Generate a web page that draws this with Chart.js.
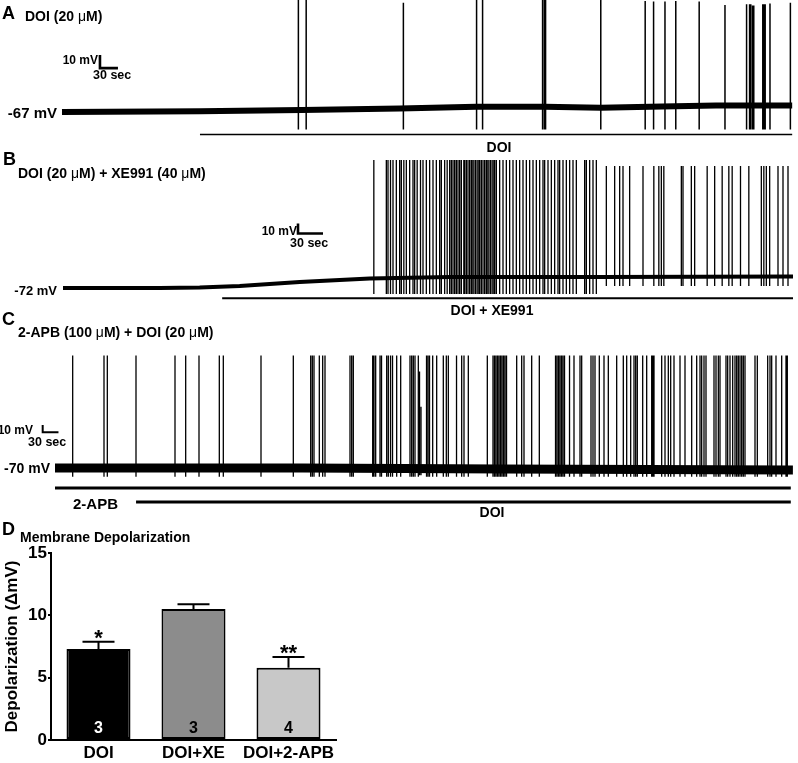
<!DOCTYPE html>
<html>
<head>
<meta charset="utf-8">
<script src="https://cdn.jsdelivr.net/npm/chart.js@4.4.1/dist/chart.umd.min.js"></script>
<style>
body { margin: 0; background: #fff; }
#fig { position: relative; width: 798px; height: 763px; overflow: hidden;
       font-family: "Liberation Sans", Arial, sans-serif; font-weight: bold; color: #000; }
#fig canvas { position: absolute; left: 0; }
.t { position: absolute; line-height: 1; white-space: nowrap; transform: translateY(-50%); }
.c { transform: translate(-50%, -50%); }
.r { transform: translate(-100%, -50%); }
.mu { font-weight: normal; }
</style>
</head>
<body>
<div id="fig">
  <canvas id="trA" width="798" height="150" style="top:0px"></canvas>
  <canvas id="trB" width="798" height="150" style="top:150px"></canvas>
  <canvas id="trC" width="798" height="215" style="top:300px"></canvas>
  <canvas id="barD" width="345" height="243" style="top:520px"></canvas>

  <div class="t" style="left:2px;top:12.5px;font-size:18px">A</div>
  <div class="t" style="left:25px;top:16px;font-size:14px">DOI (20 <span class="mu">μ</span>M)</div>
  <div class="t r" style="left:98px;top:60px;font-size:12px">10 mV</div>
  <div class="t" style="left:93px;top:75px;font-size:12.5px">30 sec</div>
  <div class="t r" style="left:57px;top:112px;font-size:15px">-67 mV</div>
  <div class="t c" style="left:499px;top:147px;font-size:14px">DOI</div>

  <div class="t" style="left:3px;top:159px;font-size:18px">B</div>
  <div class="t" style="left:18px;top:173px;font-size:14px">DOI (20 <span class="mu">μ</span>M) + XE991 (40 <span class="mu">μ</span>M)</div>
  <div class="t r" style="left:297px;top:231px;font-size:12px">10 mV</div>
  <div class="t" style="left:290px;top:243px;font-size:12.5px">30 sec</div>
  <div class="t r" style="left:57px;top:290px;font-size:13px">-72 mV</div>
  <div class="t c" style="left:492px;top:310px;font-size:14px">DOI + XE991</div>

  <div class="t" style="left:2px;top:318.5px;font-size:18px">C</div>
  <div class="t" style="left:18px;top:332px;font-size:14px">2-APB (100 <span class="mu">μ</span>M) + DOI (20 <span class="mu">μ</span>M)</div>
  <div class="t r" style="left:33px;top:430px;font-size:12px">10 mV</div>
  <div class="t" style="left:28px;top:442px;font-size:12.5px">30 sec</div>
  <div class="t r" style="left:50px;top:468px;font-size:14px">-70 mV</div>
  <div class="t" style="left:73px;top:503px;font-size:15px">2-APB</div>
  <div class="t c" style="left:492px;top:512px;font-size:14px">DOI</div>

  <div class="t" style="left:2px;top:528.5px;font-size:18px">D</div>
  <div class="t" style="left:20px;top:537px;font-size:14px">Membrane Depolarization</div>
</div>

<script>
// ---- trace A: DOI alone (time in s, Vm in mV) ----
const aBaseT = [0, 230, 400, 563, 690, 805, 898, 1000, 1090, 1217];
const aBaseV = [-67, -66.4, -65.5, -64.2, -63, -63, -63.6, -62.8, -62, -62];
const aSpikeT = [394, 407, 569, 691, 701, 801, 804, 806, 898, 972, 986, 1005, 1023, 1062, 1105,
                 1141, 1146, 1148, 1151, 1153, 1168, 1170, 1172, 1180, 1214];
const aSpikePk = [20, 20, 17, 20, 20, 20, 20, 20, 20, 18.5, 18, 18, 18.5, 18, 15.3,
                  16, 16, 16, 15, 15, 16, 16, 16, 16.5, 17];
const aDoiOn = [230, 1217];

// ---- trace B: DOI + XE991 ----
const bBaseT = [0, 116, 164, 212, 284, 368, 464, 644, 876];
const bBaseV = [-72, -72, -71.5, -70, -66, -62.5, -61, -61, -60.5];
const bBurstT = [373, 388, 390, 393, 396, 400, 404, 406, 409, 412, 416, 420, 422, 425, 429, 432,
                 436, 440, 444, 448, 452, 454, 458, 461, 464, 466, 468, 470, 472, 474, 476, 478,
                 481, 482, 484, 486, 488, 490, 491, 493, 495, 497, 499, 500, 502, 504, 506, 508,
                 509, 511, 513, 515, 517, 518, 520, 524, 528, 532, 536, 540, 544, 548, 552, 556,
                 560, 564, 568, 572, 576, 578, 582, 586, 590, 594, 596, 600, 604, 608, 612, 616,
                 626, 628, 632, 636, 640];
const bLateT = [652, 662, 668, 672, 680, 696, 709, 715, 718, 721, 742, 744, 754, 758, 773, 782,
                791, 799, 803, 813, 823, 838, 841, 844, 848, 858, 864, 870];
const bDrugOn = [191, 876];

// ---- trace C: 2-APB then DOI ----
const cBaseT = [0, 470, 850, 1402];
const cBaseV = [-70, -70, -71.4, -72.7];
const cSpikeT = [33.6, 93.1, 99.4, 153.9, 228, 248.3, 273.6, 312.2, 319.8, 391.4, 452.8, 485.8,
  488.9, 492.1, 502.2, 508.6, 513, 560.5, 563.7, 566.8, 603.6, 606.1, 609.3, 617.5, 620.4, 630.2,
  633.3, 637.5, 641.3, 649.2, 656.8, 674.5, 677.7, 680.8, 684, 690.3, 705.9, 708.7, 711.6, 717.6,
  725.2, 737.8, 743.5, 747.3, 762.9, 772.7, 777.1, 785.3, 821.4, 832.2, 835.1, 837.9, 840.8, 843.6,
  846.5, 849.3, 852.2, 855, 857.9, 877.2, 886.7, 891.1, 905.7, 920.2, 951, 953.8, 956.7, 959.5,
  962.4, 965.2, 968.1, 977.6, 986.1, 997.5, 1000.7, 1018.4, 1022.2, 1026, 1034.2, 1043.1, 1051.3,
  1067.2, 1079.8, 1086.2, 1093.8, 1100.1, 1103.3, 1106.4, 1116.6, 1124.2, 1133.7, 1135.6, 1138.1,
  1152.7, 1159, 1165.3, 1169.8, 1176.1, 1187.5, 1197, 1209.7, 1219.2, 1225.5, 1228.7, 1233.1,
  1236.9, 1252.1, 1255.9, 1260.3, 1263.5, 1274.9, 1278.1, 1282.5, 1287.6, 1292, 1295.2, 1298.3,
  1301.5, 1304.7, 1307.8, 1311, 1330, 1334.4, 1354.1, 1358.5, 1361.7, 1369.9, 1380.7, 1388.9, 1391.4];
const cShortT = [692.6, 695.4];
const cShortPk = [62, 14];
const cApbOn = [0, 1398];
const cDoiOn = [154, 1398];

// ---- panel D: bar graph ----
const groups = ['DOI', 'DOI+XE', 'DOI+2-APB'];
const depol = [7.3, 10.5, 5.8];
const sem = [0.58, 0.38, 0.85];
const nCells = ['3', '3', '4'];
const sig = ['*', '', '**'];
const yTicks = [0, 5, 10, 15];

const FONT = '"Liberation Sans", Arial, sans-serif';
Chart.defaults.font.family = FONT;

function pts(xs, ys) { return xs.map((x, i) => ({ x: x, y: ys[i] })); }

function spikePts(times, peak, trough) {
    const out = [];
    times.forEach((t, i) => {
        const pk = Array.isArray(peak) ? peak[i] : peak;
        out.push({ x: t, y: trough }, { x: t, y: pk }, { x: t, y: null });
    });
    return out;
}

function lineDs(data, width) {
    return { data: data, borderColor: '#000', borderWidth: width, pointRadius: 0, fill: false,
             tension: 0, spanGaps: false, borderCapStyle: 'butt', borderJoinStyle: 'miter' };
}

// scale bar: 10 mV up, 30 s right, from the anchor corner
function scaleBar(t0, v0) {
    return [{ x: t0, y: v0 + 10 }, { x: t0, y: v0 }, { x: t0 + 30, y: v0 }];
}

function drugBar(onOff, level) {
    return [{ x: onOff[0], y: level }, { x: onOff[1], y: level }];
}

function tracePanel(id, xr, yr, datasets) {
    return new Chart(document.getElementById(id), {
        type: 'line',
        data: { datasets: datasets },
        options: {
            responsive: false, animation: false, events: [],
            layout: { padding: 0 },
            plugins: { legend: { display: false }, tooltip: { enabled: false } },
            scales: {
                x: { type: 'linear', display: false, min: xr[0], max: xr[1] },
                y: { display: false, min: yr[0], max: yr[1] }
            }
        }
    });
}

tracePanel('trA', [-103.3, 1226.7], [-96.2, 19.2], [
    lineDs(pts(aBaseT, aBaseV), 6),
    lineDs(spikePts(aSpikeT, aSpikePk, -80.5), 1.5),
    lineDs(drugBar(aDoiOn, -84.3), 1.4),
    lineDs(scaleBar(63.3, -33.2), 2.6)
]);

tracePanel('trB', [-75.6, 882], [-84, 66], [
    lineDs(pts(bBaseT, bBaseV), 4),
    lineDs(spikePts(bBurstT, 56, -78), 1.3),
    lineDs(spikePts(bLateT, 50, -70), 1.3),
    lineDs(drugBar(bDrugOn, -82.3), 2),
    lineDs(scaleBar(282, -17.5), 2.6)
]);

tracePanel('trC', [-104.5, 1411.7], [-134.4, 160.1], [
    lineDs(pts(cBaseT, cBaseV), 9),
    lineDs(spikePts(cSpikeT, 84, -82), 1.3),
    lineDs(spikePts(cShortT, cShortPk, -80), 1.3),
    lineDs(drugBar(cApbOn, -97.4), 3),
    lineDs(drugBar(cDoiOn, -116.6), 3),
    lineDs(scaleBar(-23.4, -21.1), 2)
]);

const errBars = {
    id: 'errBars',
    afterDatasetsDraw(chart) {
        const ctx = chart.ctx;
        const y = chart.scales.y;
        const meta = chart.getDatasetMeta(0);
        ctx.save();
        meta.data.forEach((bar, i) => {
            const yTop = y.getPixelForValue(depol[i]);
            const yErr = y.getPixelForValue(depol[i] + sem[i]);
            const half = bar.width / 4;
            ctx.strokeStyle = '#000';
            ctx.lineWidth = 2;
            ctx.beginPath();
            ctx.moveTo(bar.x, yTop);
            ctx.lineTo(bar.x, yErr);
            ctx.moveTo(bar.x - half, yErr);
            ctx.lineTo(bar.x + half, yErr);
            ctx.stroke();

            ctx.fillStyle = '#000';
            ctx.textAlign = 'center';
            ctx.textBaseline = 'alphabetic';
            ctx.font = 'bold 22px ' + FONT;
            ctx.fillText(sig[i], bar.x, yErr + 3);

            ctx.font = 'bold 16px ' + FONT;
            ctx.textBaseline = 'middle';
            ctx.fillStyle = i === 0 ? '#fff' : '#000';
            ctx.fillText(nCells[i], bar.x, y.getPixelForValue(0) - 11);
        });
        ctx.restore();
    }
};

new Chart(document.getElementById('barD'), {
    type: 'bar',
    data: {
        labels: groups,
        datasets: [{
            data: depol,
            backgroundColor: ['#000000', '#8c8c8c', '#c8c8c8'],
            borderColor: '#000',
            borderWidth: 2,
            borderSkipped: false,
            barPercentage: 0.674,
            categoryPercentage: 1
        }]
    },
    options: {
        responsive: false, animation: false, events: [],
        layout: { padding: { top: 33, right: 9, left: 0, bottom: 0 } },
        plugins: { legend: { display: false }, tooltip: { enabled: false } },
        scales: {
            x: {
                grid: { display: false, drawTicks: false },
                border: { display: true, color: '#000', width: 2 },
                ticks: { color: '#000', padding: 3, autoSkip: false, maxRotation: 0, minRotation: 0,
                         font: { size: 17, weight: 'bold' } },
                afterFit(s) { s.height = 23; }
            },
            y: {
                min: 0, max: 15,
                afterBuildTicks(s) { s.ticks = yTicks.map(v => ({ value: v })); },
                grid: { drawOnChartArea: false, drawTicks: true, tickLength: 3, color: '#000', lineWidth: 2 },
                border: { display: true, color: '#000', width: 2 },
                ticks: { color: '#000', padding: 1, font: { size: 17, weight: 'bold' } },
                title: { display: true, text: 'Depolarization (\u0394mV)', color: '#000',
                         padding: { top: 2, bottom: 0 }, font: { size: 17, weight: 'bold' } },
                afterFit(s) { s.width = 51; }
            }
        }
    },
    plugins: [errBars]
});
</script>
</body>
</html>
